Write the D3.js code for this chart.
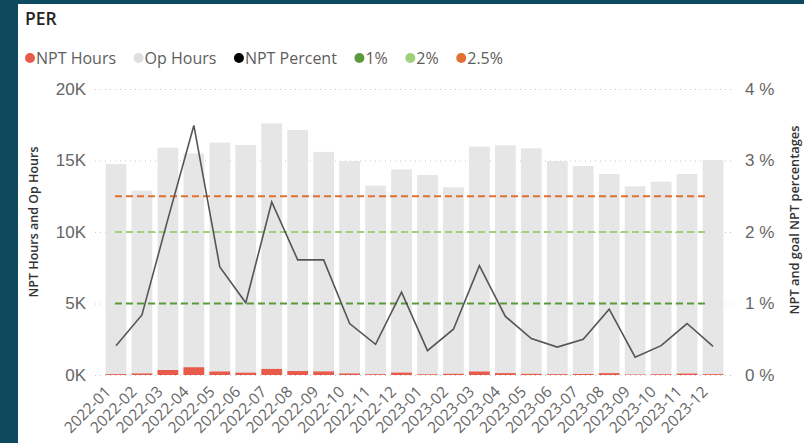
<!DOCTYPE html>
<html>
<head>
<meta charset="utf-8">
<script src="https://cdn.jsdelivr.net/npm/d3@7"></script>
<style>
  html, body { margin: 0; padding: 0; background: #0d4a5e; }
  svg { display: block; font-family: "Open Sans", "Noto Sans", sans-serif; }
</style>
</head>
<body>
<svg id="chart" width="804" height="443"></svg>
<script>
// data
var months = ["2022-01","2022-02","2022-03","2022-04","2022-05","2022-06","2022-07","2022-08","2022-09","2022-10","2022-11","2022-12",
              "2023-01","2023-02","2023-03","2023-04","2023-05","2023-06","2023-07","2023-08","2023-09","2023-10","2023-11","2023-12"];
var opHours = [14750, 12900, 15900, 15500, 16250, 16080, 17600, 17130, 15600, 14960, 13240, 14380,
               13990, 13130, 15970, 16060, 15850, 14960, 14615, 14055, 13195, 13520, 14055, 15035];
var nptHours = [60, 108, 350, 540, 245, 162, 426, 276, 251, 108, 57, 167,
                48, 84, 244, 132, 81, 58, 73, 129, 33, 55, 101, 60];
var nptPercent = [0.41, 0.84, 2.18, 3.49, 1.51, 1.01, 2.42, 1.61, 1.61, 0.72, 0.43, 1.16,
                  0.34, 0.64, 1.53, 0.82, 0.51, 0.39, 0.50, 0.92, 0.25, 0.41, 0.72, 0.40];
var goals = [{name: "1%", value: 1, color: "#5a9a3a"},
             {name: "2%", value: 2, color: "#9fd07a"},
             {name: "2.5%", value: 2.5, color: "#e0702f"}];
var leftTicks = [0, 5000, 10000, 15000, 20000];
var rightTicks = [0, 1, 2, 3, 4];

var colors = {npt: "#e85a4a", op: "#e6e6e6", line: "#555555"};

var svg = d3.select("#chart");

// white card
svg.append("rect")
    .attr("x", 18).attr("y", 4)
    .attr("width", 786).attr("height", 439)
    .attr("fill", "white");

// title
svg.append("text")
    .attr("x", 25).attr("y", 25)
    .attr("font-size", 17.5).attr("font-weight", 600)
    .attr("fill", "#252423")
    .text("PER");

// legend: spread items between x=30 and x=503 like the report
var legendItems = [
    {name: "NPT Hours", color: colors.npt},
    {name: "Op Hours", color: "#dedede"},
    {name: "NPT Percent", color: "#000000"},
    {name: goals[0].name, color: goals[0].color},
    {name: goals[1].name, color: goals[1].color},
    {name: goals[2].name, color: goals[2].color}
];
var legend = svg.append("g").selectAll("g")
    .data(legendItems)
    .enter().append("g");
legend.append("circle").attr("r", 5).attr("fill", function(d){ return d.color; });
legend.append("text")
    .attr("x", 6).attr("dy", "0.35em")
    .attr("font-size", 16).attr("fill", "#605e5c")
    .text(function(d){ return d.name; });
var widths = [];
legend.select("text").each(function(){ widths.push(this.getComputedTextLength()); });
var legendGap = (503 - 30 - 6 * legendItems.length - d3.sum(widths)) / (legendItems.length - 1);
var cx = 30;
legend.each(function(d, i){
    d3.select(this).attr("transform", "translate(" + cx + ",58)");
    cx += 6 + widths[i] + legendGap;
});

var plotTop = 89, plotBottom = 375;

var x = d3.scaleBand()
    .domain(months)
    .range([103, 726])
    .paddingInner(0.2)
    .paddingOuter(0.1);

var yLeft = d3.scaleLinear().domain([0, 20000]).range([plotBottom, plotTop]);
var yRight = d3.scaleLinear().domain([0, 4]).range([plotBottom, plotTop]);

// gridlines
svg.append("g").selectAll("line")
    .data(leftTicks)
    .enter().append("line")
    .attr("x1", 95).attr("x2", 735)
    .attr("y1", function(d){ return yLeft(d) + 0.5; })
    .attr("y2", function(d){ return yLeft(d) + 0.5; })
    .attr("stroke", "#c8c8c8")
    .attr("stroke-dasharray", "1,4");

// left axis
var leftAxis = svg.append("g")
    .attr("transform", "translate(86,0)")
    .call(d3.axisLeft(yLeft).tickValues(leftTicks).tickSize(0).tickPadding(0)
        .tickFormat(function(d){ return (d / 1000) + "K"; }));
leftAxis.select(".domain").remove();
leftAxis.selectAll("text").attr("font-size", 17).attr("fill", "#666").attr("font-family", null);

// right axis
var rightAxis = svg.append("g")
    .attr("transform", "translate(745,0)")
    .call(d3.axisRight(yRight).tickValues(rightTicks).tickSize(0).tickPadding(0)
        .tickFormat(function(d){ return d + " %"; }));
rightAxis.select(".domain").remove();
rightAxis.selectAll("text").attr("font-size", 17).attr("fill", "#666").attr("font-family", null);

// axis titles
svg.append("text")
    .attr("transform", "translate(38,222) rotate(-90)")
    .attr("text-anchor", "middle")
    .attr("font-size", 12.5).attr("font-weight", 600).attr("fill", "#333")
    .text("NPT Hours and Op Hours");
svg.append("text")
    .attr("transform", "translate(799,220) rotate(-90)")
    .attr("text-anchor", "middle")
    .attr("font-size", 12.8).attr("font-weight", 600).attr("fill", "#333")
    .text("NPT and goal NPT percentages");

// op hours bars
svg.append("g").selectAll("rect")
    .data(months)
    .enter().append("rect")
    .attr("x", function(d){ return x(d); })
    .attr("width", x.bandwidth())
    .attr("y", function(d, i){ return yLeft(opHours[i]); })
    .attr("height", function(d, i){ return plotBottom - yLeft(opHours[i]); })
    .attr("fill", colors.op);

// npt hours bars
svg.append("g").selectAll("rect")
    .data(months)
    .enter().append("rect")
    .attr("x", function(d){ return x(d); })
    .attr("width", x.bandwidth())
    .attr("y", function(d, i){ return yLeft(nptHours[i]); })
    .attr("height", function(d, i){ return plotBottom - yLeft(nptHours[i]); })
    .attr("fill", colors.npt);

// goal lines
var firstX = x(months[0]) + x.bandwidth() / 2;
var lastX = x(months[months.length - 1]) + x.bandwidth() / 2;
svg.append("g").selectAll("line")
    .data(goals)
    .enter().append("line")
    .attr("x1", firstX - 1).attr("x2", lastX - 4)
    .attr("y1", function(d){ return yRight(d.value); })
    .attr("y2", function(d){ return yRight(d.value); })
    .attr("stroke", function(d){ return d.color; })
    .attr("stroke-width", 2)
    .attr("stroke-dasharray", "7,4");

// npt percent line
var line = d3.line()
    .x(function(d, i){ return x(months[i]) + x.bandwidth() / 2; })
    .y(function(d){ return yRight(d); });
svg.append("path")
    .datum(nptPercent)
    .attr("d", line)
    .attr("fill", "none")
    .attr("stroke", colors.line)
    .attr("stroke-width", 1.6);

// x labels
svg.append("g").selectAll("text")
    .data(months)
    .enter().append("text")
    .attr("transform", function(d){ return "translate(" + (x(d) + x.bandwidth() / 2 - 8) + ",389) rotate(-45)"; })
    .attr("text-anchor", "end")
    .attr("dy", "0.35em")
    .attr("font-size", 15.5).attr("fill", "#666")
    .text(function(d){ return d; });
</script>
</body>
</html>
